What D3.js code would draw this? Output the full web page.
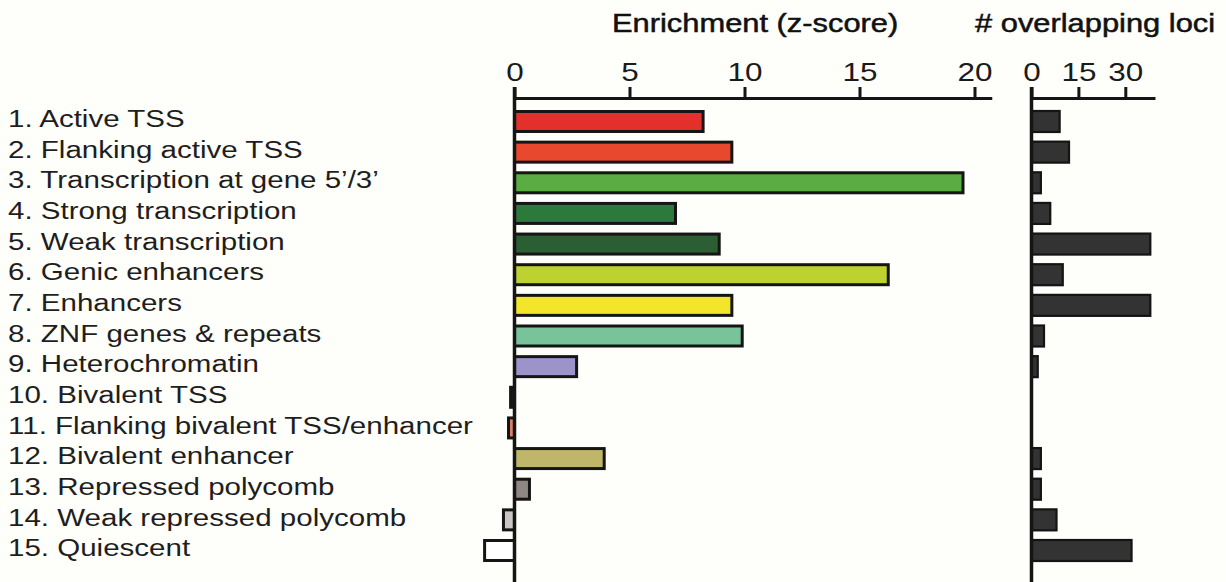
<!DOCTYPE html>
<html>
<head>
<meta charset="utf-8">
<script src="https://cdn.jsdelivr.net/npm/d3@7"></script>
<style>
  html, body { margin: 0; padding: 0; background: #fefefa; }
  svg { display: block; }
  text { font-family: "Liberation Sans", Arial, sans-serif; }
</style>
</head>
<body>
<svg id="chart" width="1226" height="582"></svg>
<script>
// ---- data ----
const states = [
  "1. Active TSS",
  "2. Flanking active TSS",
  "3. Transcription at gene 5\u2019/3\u2019",
  "4. Strong transcription",
  "5. Weak transcription",
  "6. Genic enhancers",
  "7. Enhancers",
  "8. ZNF genes & repeats",
  "9. Heterochromatin",
  "10. Bivalent TSS",
  "11. Flanking bivalent TSS/enhancer",
  "12. Bivalent enhancer",
  "13. Repressed polycomb",
  "14. Weak repressed polycomb",
  "15. Quiescent"
];
const enrichment = [8.2, 9.45, 19.5, 7.0, 8.9, 16.25, 9.45, 9.9, 2.7, -0.17, -0.26, 3.9, 0.65, -0.48, -1.3];
const overlapCounts = [9, 12, 3, 6, 38, 10, 38, 4, 2, 0, 0, 3, 3, 8, 32];
const enrichTicks = [0, 5, 10, 15, 20];
const countTicks = [0, 15, 30];
const titleEnrich = "Enrichment (z-score)";
const titleCount = "# overlapping loci";
const stateColors = ["#e4302b", "#e8492e", "#5aae41", "#2b7a3c", "#2b5e33", "#bdd231", "#f3e62a",
  "#78c39a", "#9b93c9", "#1a1a1a", "#e0806a", "#bfb66a", "#8f8782", "#c9c5c5", "#ffffff"];

// ---- layout ----
const svg = d3.select("#chart");
const SX = 1.21;           // horizontal stretch of the original artwork
const axisY = 98;
const bottomY = 582;

const y = d3.scalePoint().domain(states).range([121.5, 550.5]);
const barH = 20;

const xL = d3.scaleLinear().domain([0, 20.75]).range([514.5, 991.75]);
const xR = d3.scaleLinear().domain([0, 39.5]).range([1031.5, 1155]);

function stext(x, yy, str, size, anchor, fill) {
  return svg.append("text")
    .attr("transform", `translate(${x},${yy}) scale(${SX},1)`)
    .attr("text-anchor", anchor || "start")
    .attr("font-size", size)
    .attr("fill", fill || "#1a1a1a")
    .text(str);
}

// row labels
states.forEach(s => stext(8, y(s) + 5.7, s, 24.4, "start", "#1e1e1e"));

// titles (slightly heavier than the labels)
stext(612, 32, titleEnrich, 25.5, "start", "#111").attr("stroke", "#111").attr("stroke-width", 0.5);
stext(975, 32, titleCount, 25.5, "start", "#111").attr("stroke", "#111").attr("stroke-width", 0.5);

// ---- left panel bars ----
svg.append("g").selectAll("rect")
  .data(states.map((s, i) => ({ s, v: enrichment[i], c: stateColors[i] })))
  .join("rect")
  .attr("x", d => Math.min(xL(0), xL(d.v)))
  .attr("width", d => Math.abs(xL(d.v) - xL(0)))
  .attr("y", d => y(d.s) - barH / 2)
  .attr("height", barH)
  .attr("fill", d => d.c)
  .attr("stroke", "#151515")
  .attr("stroke-width", 3);

// ---- right panel bars ----
svg.append("g").selectAll("rect")
  .data(states.map((s, i) => ({ s, v: overlapCounts[i] })).filter(d => d.v > 0))
  .join("rect")
  .attr("x", xR(0))
  .attr("width", d => xR(d.v) - xR(0))
  .attr("y", d => y(d.s) - 10.5)
  .attr("height", 21)
  .attr("fill", "#333333")
  .attr("stroke", "#141414")
  .attr("stroke-width", 2.2);

// ---- axes ----
function drawAxis(scale, ticks) {
  const g = svg.append("g")
    .attr("transform", `translate(0,${axisY})`)
    .call(d3.axisTop(scale).tickValues(ticks).tickSize(11).tickSizeOuter(0).tickPadding(5));
  g.select(".domain").attr("stroke", "#151515").attr("stroke-width", 3);
  g.selectAll(".tick line").attr("stroke", "#151515").attr("stroke-width", 3);
  g.selectAll(".tick text").remove();
  g.selectAll(".tick").each(function(d) {
    d3.select(this).append("text")
      .attr("transform", `translate(0,-17) scale(${SX},1)`)
      .attr("text-anchor", "middle")
      .attr("font-size", 26)
      .attr("fill", "#1a1a1a")
      .text(d);
  });
  // vertical zero line
  svg.append("line")
    .attr("x1", scale(0)).attr("x2", scale(0))
    .attr("y1", axisY - 11).attr("y2", bottomY)
    .attr("stroke", "#151515").attr("stroke-width", 3.5);
}
drawAxis(xL, enrichTicks);
drawAxis(xR, countTicks);
</script>
</body>
</html>
